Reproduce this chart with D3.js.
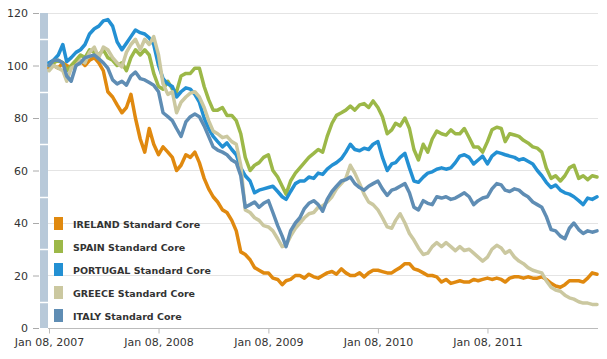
<!DOCTYPE html>
<html><head><meta charset="utf-8">
<script src="https://cdn.jsdelivr.net/npm/d3@7"></script>
<style>body{margin:0;background:#fff}svg{display:block}</style>
</head><body><div id="chart"></div>
<script>
// ---- data ----
const seriesNames = ["IRELAND Standard Core","SPAIN Standard Core","PORTUGAL Standard Core","GREECE Standard Core","ITALY Standard Core"];
const seriesColors = ["#e0890f","#9cb848","#2390d3","#cbc8a0","#5f8db4"];
// sampled twice a month (8th and 23rd), Jan 08 2007 .. Jan 08 2012
const startYear = 2007, sampleDays = [8, 23], sampleCount = 121;
const ireland = [99,100,99,101,100,99,101,102,100,102,103,101,98,90,88,85,82,84,89,80,72,67,76,70,66,69,67,65,60,62,66,65,67,63,57,53,50,48,45,44,41,37,29,28,26,23,22,21,21,19,18.5,16.5,18,18.5,20,20,19,20.5,19.5,19,20,21,21.5,20.5,22.5,21,20,20,21,19.5,21,22,22,21.5,21,21,22,23,24.5,24.5,22.5,22,21,20,20,19.5,17.5,18.5,17,17.5,18,17.5,17.5,18.5,18,18.5,19,18.5,19,18.5,17.5,19,19.5,19.5,19,19.5,19,19,19.5,18.5,17,16,15.5,16.5,18,18,18,17.5,19,21,20.5];
const spain = [100,101,102,101,98,100,102,104,103,106,105,104,106,103,102,100,101,98,103,106,104,106,104,97,92,91,94,91,90,96,97,97,99,99,92,87,83,83,84,81,81,79,74,65,60,62,63,65,66,60,57.5,54,51,56,59,61,63,65,66.5,68,67,73,78,81,82,83,84.5,83,85,85.5,84,86.5,84,80.5,74,75.5,78,77,80,76,68,64,70,67,72,75,74,73.5,75.5,74,74,76,72.5,69,69,67,71,75.5,76.5,76,71,74,73.5,73,71.5,70.5,69,68.5,67,61,57,58,56,58,61,62,57,58,56.5,58,57.5];
const portugal = [101,102,104,108,101.5,103,105,106,108,112,114,115,117,117.5,115,109,106,108.5,111,113.5,112.5,112,110.5,108,100,95,93,92,88,90,91.5,91,89,86,80,76,73,71,69,70.5,68,66,61,58,56,51.5,52.5,53,53.5,54,52,50,49,52,55,56,56,57.5,57,59,58.5,60.5,62,63,64.5,67,70,68,67.5,68.5,68,70,71,65,60,62.5,63,65,66.5,61,56,55.5,57.5,59,59.5,60.5,61,60.5,61,63,65.5,66,65,62.5,64,65.5,62.5,65.5,67,66.5,66,65.5,65,64,64.5,63.5,62.5,60,58,55.5,53.5,54.5,52.5,51.5,51,50,48.5,47,49.5,49,50];
const greece = [98,100,99,98,94,99,100,102,101,105,107,103,107,106,103,101,99.5,105,108,110,106,110,108,111,104,93,89,90,82,86,88,89.5,90,88,84,79,75,74,72.5,73,71,70,62,45,44,42,41,39,38.5,37,34,31,31.5,35,38,40,42,43.5,44,46,46.5,48,50,53,55,57,62,59,55,51,48,47,45,42,38.5,38,41,43.5,40,36,33.5,30.5,28,28.5,31,32.5,31,32.5,31,29.5,31,29.5,30,28.5,27,25.5,27,30,31.5,30.5,28.5,29.5,27,25.5,24.5,23,22,21.5,21,18,15.5,14.5,14,12.5,11.5,11,10,9.5,9.5,9,9];
const italy = [100,102,102,101,96,94,100,101,103,103.5,104,102.5,101,99,94.5,93,94,92.5,96,97.5,95,94.5,93.5,92.5,90,82,80.5,79,76,73,78.5,80.5,81.5,80.5,77,73,69,67.8,67,66,64,63,58,46,47,48,46,47.5,48.5,44,39,35,31,37,40,42,45.5,47.5,48.5,47,44.5,49,52,54,56,56.5,57.5,55,53.5,52.5,54,55,56,53,50.5,52.5,53,54,55,51.5,46,45,48.5,47.5,47,50,49.5,50,49,49.5,50.5,51.5,50,47,48.5,49.5,50,53,55,54.5,52.5,52,53,52.5,51,50,48,47,46,42.5,37.5,37,35,34,38,40,37.5,36,37,36.5,37];
const yTicks = [0,20,40,60,80,100,120];
const yMinorTicks = [10,30,50,70,90,110];
const xTickLabels = ["Jan 08, 2007","Jan 08, 2008","Jan 08, 2009","Jan 08, 2010","Jan 08, 2011"];

// ---- build ----
const dates = [];
for (let i = 0; i < sampleCount; i++) {
  const m = Math.floor(i / 2);
  dates.push(new Date(startYear, m, sampleDays[i % 2]));
}
const allSeries = [ireland, spain, portugal, greece, italy];

const W = 607, H = 359;
const svg = d3.select("#chart").append("svg").attr("width", W).attr("height", H);
const font = "'DejaVu Sans', Verdana, sans-serif";

const x = d3.scaleTime().domain([dates[0], dates[dates.length-1]]).range([49, 597]);
const y = d3.scaleLinear().domain([0, 120]).range([328, 13]);
const parse = d3.timeParse("%b %d, %Y");

// gridlines
svg.append("g").selectAll("line").data(yTicks.filter(d => d > 0)).join("line")
  .attr("x1", 48).attr("x2", 598).attr("y1", d => y(d)).attr("y2", d => y(d))
  .attr("stroke", "#e4e4e4").attr("stroke-width", 1).attr("shape-rendering", "crispEdges");

// left bar
svg.append("rect").attr("x", 40).attr("y", y(120)).attr("width", 8).attr("height", y(0) - y(120)).attr("fill", "#b8c9d9");
svg.append("g").selectAll("line").data(yMinorTicks).join("line")
  .attr("x1", 40).attr("x2", 48).attr("y1", d => Math.round(y(d)) + 0.5).attr("y2", d => Math.round(y(d)) + 0.5)
  .attr("stroke", "#fff").attr("stroke-width", 1.5);

// y axis
const yAxis = d3.axisLeft(y).tickValues(yTicks).tickSize(6).tickPadding(5);
const gy = svg.append("g").attr("transform", "translate(39,0)").call(yAxis);
gy.select(".domain").remove();
gy.selectAll(".tick line").attr("stroke", "#aaa");
gy.selectAll(".tick text").attr("fill", "#333").style("font-family", font).style("font-size", "11px");

// x axis
const xAxis = d3.axisBottom(x).tickValues(xTickLabels.map(s => parse(s))).tickFormat((d, i) => xTickLabels[i]).tickSize(5).tickPadding(5);
const gx = svg.append("g").attr("transform", "translate(0,328.5)").call(xAxis);
gx.select(".domain").attr("d", "M48,0H598").attr("stroke", "#bbb");
gx.selectAll(".tick line").attr("stroke", "#bbb");
gx.selectAll(".tick text").attr("fill", "#333").style("font-family", font).style("font-size", "11px");

// lines
const line = d3.line().x((d, i) => x(dates[i])).y(d => y(d));
svg.append("g").selectAll("path").data(allSeries).join("path")
  .attr("d", d => line(d)).attr("fill", "none")
  .attr("stroke", (d, i) => seriesColors[i]).attr("stroke-width", 3.5)
  .attr("stroke-linejoin", "round").attr("stroke-linecap", "round");

// legend
const lg = svg.append("g").attr("transform", "translate(54,217)");
const items = lg.selectAll("g").data(seriesNames).join("g").attr("transform", (d, i) => `translate(0,${i * 23})`);
items.append("rect").attr("width", 9).attr("height", 13).attr("fill", (d, i) => seriesColors[i]);
items.append("text").attr("x", 19).attr("y", 10.5).text(d => d)
  .attr("fill", "#333").style("font-family", font).style("font-size", "9.5px").style("font-weight", "bold");
</script></body></html>
